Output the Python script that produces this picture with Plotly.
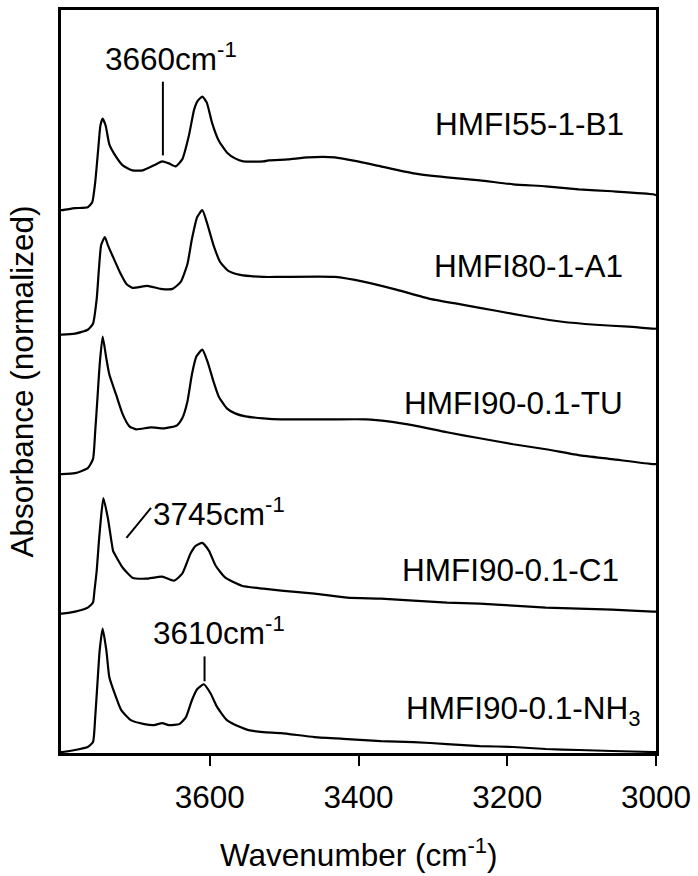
import plotly.graph_objects as go

# Wavenumber (cm^-1) and stacked normalized absorbance for each sample
wn_b1 = [3800, 3799, 3781, 3764, 3758, 3754, 3750, 3747, 3744, 3740, 3735, 3728, 3717, 3704, 3690, 3675, 3664, 3655, 3646, 3637, 3628, 3621, 3616, 3610, 3604, 3597, 3588, 3577, 3566, 3555, 3528, 3521, 3495, 3468, 3432, 3401, 3370, 3326, 3281, 3237, 3192, 3148, 3104, 3059, 3004, 3000]
ab_b1 = [5.45, 5.45, 5.47, 5.48, 5.53, 5.73, 6.06, 6.30, 6.37, 6.30, 6.11, 6.01, 5.90, 5.85, 5.85, 5.90, 5.94, 5.92, 5.89, 5.96, 6.20, 6.46, 6.55, 6.59, 6.53, 6.33, 6.15, 6.03, 5.97, 5.94, 5.94, 5.95, 5.96, 5.98, 5.98, 5.94, 5.89, 5.82, 5.78, 5.75, 5.71, 5.69, 5.66, 5.64, 5.61, 5.60]

wn_a1 = [3800, 3799, 3781, 3764, 3757, 3752, 3749, 3746, 3741, 3737, 3730, 3721, 3712, 3704, 3684, 3666, 3650, 3639, 3630, 3624, 3617, 3610, 3604, 3595, 3586, 3575, 3559, 3528, 3504, 3432, 3392, 3348, 3304, 3259, 3215, 3170, 3126, 3081, 3037, 3004, 3000]
ab_a1 = [4.20, 4.20, 4.21, 4.25, 4.31, 4.56, 4.86, 5.10, 5.18, 5.10, 4.98, 4.83, 4.71, 4.67, 4.69, 4.66, 4.66, 4.73, 4.91, 5.16, 5.38, 5.45, 5.33, 5.10, 4.93, 4.84, 4.80, 4.78, 4.78, 4.78, 4.73, 4.65, 4.56, 4.50, 4.44, 4.38, 4.33, 4.30, 4.28, 4.26, 4.26]

wn_tu = [3800, 3799, 3781, 3764, 3757, 3754, 3751, 3748, 3744, 3739, 3735, 3726, 3717, 3708, 3699, 3679, 3661, 3644, 3637, 3630, 3624, 3618, 3610, 3603, 3595, 3588, 3577, 3566, 3552, 3528, 3504, 3437, 3390, 3360, 3326, 3281, 3237, 3192, 3148, 3104, 3059, 3004, 3000]
ab_tu = [2.80, 2.80, 2.81, 2.86, 2.95, 3.23, 3.56, 3.90, 4.18, 3.96, 3.80, 3.60, 3.40, 3.28, 3.25, 3.27, 3.26, 3.29, 3.36, 3.53, 3.80, 3.98, 4.05, 3.93, 3.73, 3.58, 3.46, 3.41, 3.38, 3.36, 3.35, 3.35, 3.35, 3.33, 3.29, 3.22, 3.16, 3.10, 3.05, 2.99, 2.95, 2.90, 2.90]

wn_c1 = [3800, 3799, 3781, 3764, 3757, 3755, 3752, 3749, 3746, 3743, 3737, 3730, 3728, 3717, 3704, 3686, 3664, 3648, 3637, 3626, 3619, 3610, 3601, 3592, 3579, 3557, 3528, 3504, 3459, 3415, 3370, 3326, 3281, 3237, 3192, 3148, 3104, 3059, 3004, 3000]
ab_c1 = [1.40, 1.40, 1.42, 1.46, 1.51, 1.63, 1.83, 2.13, 2.38, 2.56, 2.36, 2.03, 2.00, 1.86, 1.76, 1.75, 1.77, 1.73, 1.80, 2.00, 2.08, 2.11, 2.03, 1.88, 1.76, 1.68, 1.65, 1.63, 1.60, 1.56, 1.55, 1.53, 1.51, 1.50, 1.48, 1.46, 1.45, 1.44, 1.42, 1.42]

wn_nh3 = [3800, 3799, 3781, 3764, 3757, 3754, 3751, 3748, 3744, 3739, 3735, 3728, 3719, 3706, 3688, 3675, 3664, 3655, 3641, 3632, 3624, 3617, 3608, 3599, 3590, 3577, 3559, 3548, 3528, 3504, 3459, 3415, 3370, 3326, 3281, 3237, 3192, 3148, 3104, 3059, 3004, 3000]
ab_nh3 = [0.01, 0.01, 0.03, 0.06, 0.11, 0.36, 0.70, 1.03, 1.25, 1.03, 0.76, 0.60, 0.43, 0.33, 0.29, 0.28, 0.30, 0.28, 0.29, 0.36, 0.53, 0.64, 0.69, 0.60, 0.46, 0.33, 0.26, 0.23, 0.21, 0.20, 0.16, 0.14, 0.12, 0.11, 0.09, 0.07, 0.06, 0.04, 0.03, 0.02, 0.01, 0.01]

sample_names = ["HMFI55-1-B1", "HMFI80-1-A1", "HMFI90-0.1-TU", "HMFI90-0.1-C1", "HMFI90-0.1-NH<sub>3</sub>"]
label_wn = [3300, 3301, 3341, 3344, 3339]
label_y = [6.32, 4.89, 3.51, 1.84, 0.43]

x_ticks = [3600, 3400, 3200, 3000]

FONT = "Arial, Liberation Sans, sans-serif"
FS = 31.5

fig = go.Figure()
series = [(wn_b1, ab_b1), (wn_a1, ab_a1), (wn_tu, ab_tu), (wn_c1, ab_c1), (wn_nh3, ab_nh3)]
for (wx, ay) in series:
    fig.add_trace(go.Scatter(x=wx, y=ay, mode="lines",
                             line=dict(color="black", width=2.2, shape="spline", smoothing=0.5),
                             showlegend=False, hoverinfo="skip"))

# sample labels
for name, lx, ly in zip(sample_names, label_wn, label_y):
    fig.add_annotation(x=lx, y=ly, xref="x", yref="y", text=name, showarrow=False,
                       xanchor="left", yanchor="middle", font=dict(size=FS, color="black", family=FONT))

# peak markers
fig.add_shape(type="line", x0=3663, x1=3663, y0=6.00, y1=6.74, xref="x", yref="y",
              line=dict(color="black", width=2))
fig.add_annotation(x=3652, y=6.77, text="3660cm<sup>-1</sup>", showarrow=False,
                   xanchor="center", yanchor="bottom", font=dict(size=FS, color="black", family=FONT))

fig.add_shape(type="line", x0=3712, x1=3679, y0=2.16, y1=2.46, xref="x", yref="y",
              line=dict(color="black", width=2))
fig.add_annotation(x=3679, y=2.20, text="3745cm<sup>-1</sup>", showarrow=False,
                   xanchor="left", yanchor="bottom", font=dict(size=FS, color="black", family=FONT))

fig.add_shape(type="line", x0=3607, x1=3607, y0=0.72, y1=0.97, xref="x", yref="y",
              line=dict(color="black", width=2))
fig.add_annotation(x=3588, y=1.00, text="3610cm<sup>-1</sup>", showarrow=False,
                   xanchor="center", yanchor="bottom", font=dict(size=FS, color="black", family=FONT))

# axis titles
fig.add_annotation(x=0.5, y=0, xref="paper", yref="paper", yshift=-78, text="Wavenumber (cm<sup>-1</sup>)",
                   showarrow=False, xanchor="center", yanchor="top", font=dict(size=FS, color="black", family=FONT))
fig.add_annotation(x=0, y=0.5, xref="paper", yref="paper", xshift=-40, text="Absorbance (normalized)",
                   showarrow=False, textangle=-90, xanchor="center", yanchor="middle",
                   font=dict(size=FS, color="black", family=FONT))

fig.update_xaxes(range=[3800, 3000], tickvals=x_ticks, ticks="outside", ticklen=10, tickwidth=2,
                 tickcolor="black", showline=True, linecolor="black", linewidth=2.5, mirror=True,
                 ticklabelstandoff=4,
                 showgrid=False, zeroline=False, tickfont=dict(size=FS, color="black", family=FONT))
fig.update_yaxes(range=[0, 7.46], showticklabels=False, ticks="", showline=True, linecolor="black",
                 linewidth=2.5, mirror=True, showgrid=False, zeroline=False)

fig.update_layout(width=698, height=876, margin=dict(l=61, r=38, t=7, b=123),
                  plot_bgcolor="white", paper_bgcolor="white", font=dict(family=FONT, color="black"))

fig.write_html("out.html")
